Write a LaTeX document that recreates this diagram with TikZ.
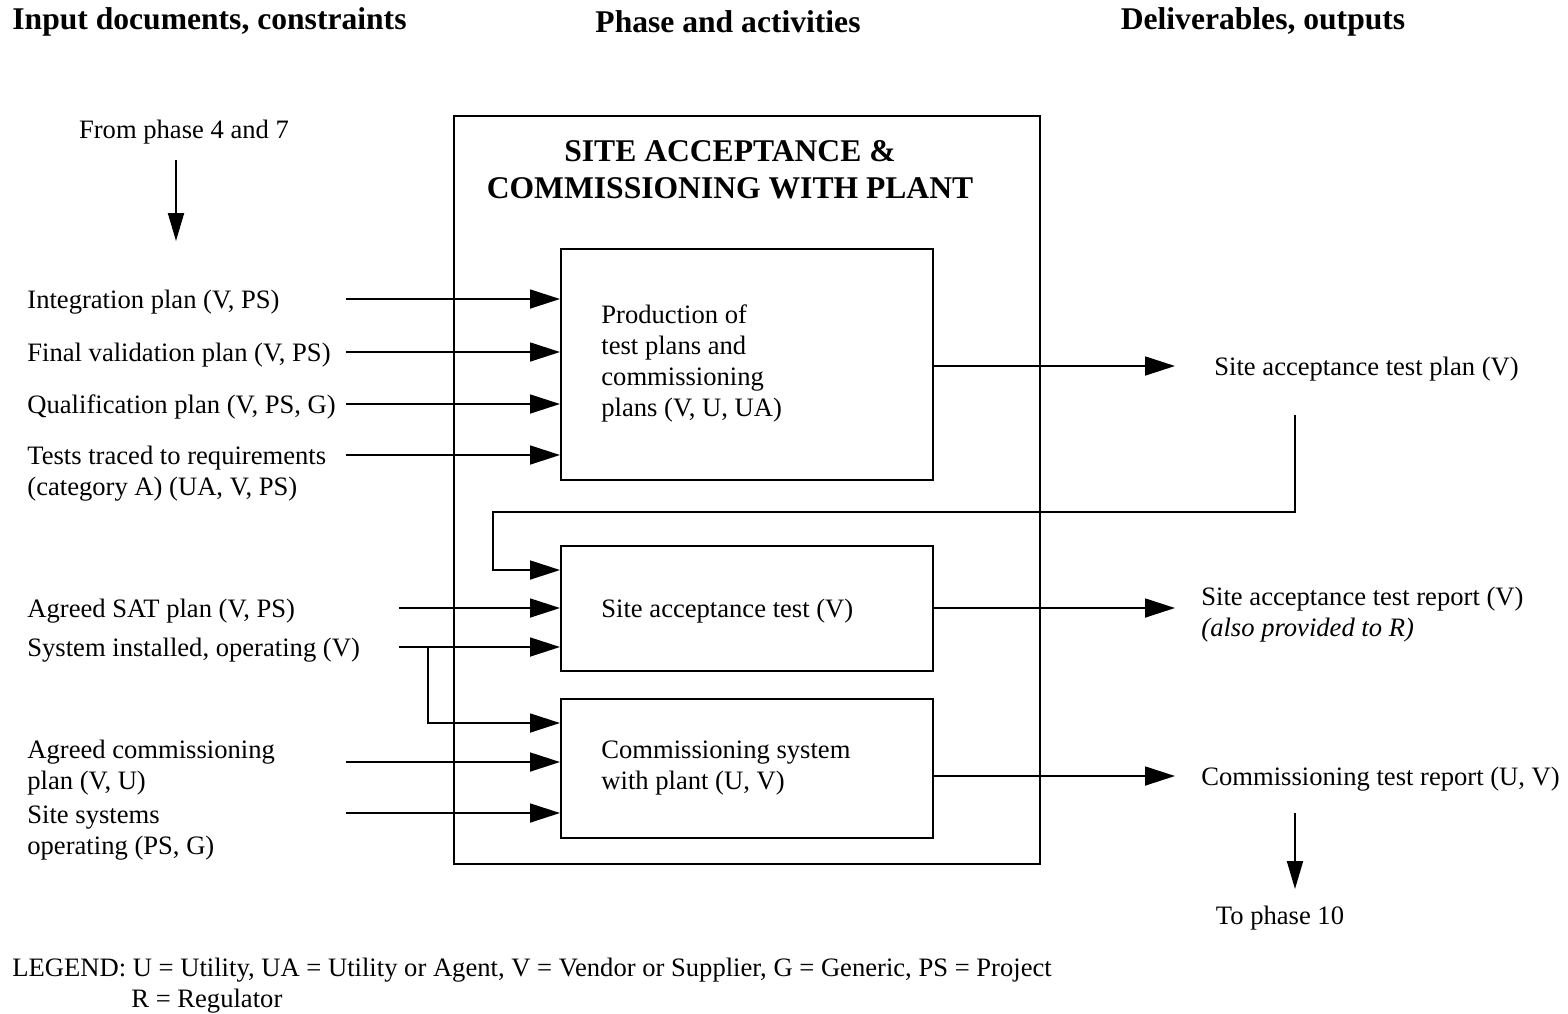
\documentclass[tikz,border=0pt]{standalone}
\usepackage{fontspec}
\setmainfont{Liberation Serif}
\usetikzlibrary{arrows.meta}
\begin{document}
\begin{tikzpicture}[x=0.5bp,y=-0.5bp,
  txt/.style={inner sep=0pt,anchor=west,yshift=-1.5bp,font=\fontsize{13.3bp}{15.5bp}\selectfont},
  head/.style={inner sep=0pt,yshift=-1bp,font=\fontsize{15.8bp}{18bp}\selectfont\bfseries},
  ttl/.style={inner sep=0pt,align=center,font=\fontsize{15.8bp}{18.5bp}\selectfont\bfseries},
  box/.style={draw,line width=1bp,inner sep=0pt},
  ln/.style={line width=1bp},
  arr/.style={line width=1bp,-{Triangle[length=15bp,width=10bp,angle'=35]}},
  darr/.style={line width=1bp,-{Triangle[length=14bp,width=8bp]}}]
\useasboundingbox (0,0) rectangle (1568,1013);

% column headings
\node[head,anchor=west] (h1) at (12,20) {Input documents, constraints};
\node[head] (h2) at (728,20) {Phase and activities};
\node[head] (h3) at (1263,20) {Deliverables, outputs};

% phase frame and activity boxes
\node[box,minimum width=293bp,minimum height=374bp] (frame) at (747,490) {};
\node[ttl] (title) at (730,170) {SITE ACCEPTANCE \&\\COMMISSIONING WITH PLANT};
\node[box,minimum width=186bp,minimum height=115.5bp] (b1) at (747,364.5) {};
\node[box,minimum width=186bp,minimum height=62.5bp] (b2) at (747,608.5) {};
\node[box,minimum width=186bp,minimum height=69.5bp] (b3) at (747,768.5) {};
\node[txt,align=left] (t1) at (601,360.5) {Production of\\test plans and\\commissioning\\plans (V, U, UA)};
\node[txt] (t2) at (601,608) {Site acceptance test (V)};
\node[txt,align=left] (t3) at (601,765.5) {Commissioning system\\with plant (U, V)};

% predecessor phases
\node[txt,anchor=center] (from) at (184,129) {From phase 4 and 7};
\coordinate (fa) at (176,160);
\coordinate (fb) at (176,241);
\draw[darr] (fa) -- (fb);

% inputs
\node[txt] (i1) at (27,299) {Integration plan (V, PS)};
\node[txt] (i2) at (27,352) {Final validation plan (V, PS)};
\node[txt] (i3) at (27,404) {Qualification plan (V, PS, G)};
\node[txt,align=left] (i4) at (27,471) {Tests traced to requirements\\(category A) (UA, V, PS)};
\node[txt] (i5) at (27,608) {Agreed SAT plan (V, PS)};
\node[txt] (i6) at (27,647) {System installed, operating (V)};
\node[txt,align=left] (i7) at (27,765) {Agreed commissioning\\plan (V, U)};
\node[txt,align=left] (i8) at (27,830) {Site systems\\operating (PS, G)};

\coordinate (s1) at (346,299);
\coordinate (s2) at (346,352);
\coordinate (s3) at (346,404);
\coordinate (s4) at (346,455);
\coordinate (s5) at (399,608);
\coordinate (s6) at (399,647);
\coordinate (s7) at (346,762);
\coordinate (s8) at (346,813);
\coordinate (k6) at (428,647);
\coordinate (k6b) at (428,723);

\draw[arr] (s1) -- (s1 -| b1.west);
\draw[arr] (s2) -- (s2 -| b1.west);
\draw[arr] (s3) -- (s3 -| b1.west);
\draw[arr] (s4) -- (s4 -| b1.west);
\draw[arr] (s5) -- (s5 -| b2.west);
\draw[arr] (s6) -- (s6 -| b2.west);
\draw[arr] (k6) -- (k6b) -- (k6b -| b3.west);
\draw[arr] (s7) -- (s7 -| b3.west);
\draw[arr] (s8) -- (s8 -| b3.west);

% outputs
\node[txt] (o1) at (1214,366) {Site acceptance test plan (V)};
\node[txt,align=left] (o2) at (1201,611.5) {Site acceptance test report (V)\\\textit{(also provided to R)}};
\node[txt] (o3) at (1201,776) {Commissioning test report (U, V)};

\coordinate (e1) at (1175,366);
\coordinate (e2) at (1175,608);
\coordinate (e3) at (1175,776);
\draw[arr] (e1 -| b1.east) -- (e1);
\draw[arr] (e2 -| b2.east) -- (e2);
\draw[arr] (e3 -| b3.east) -- (e3);

% test plan fed back into the site acceptance test
\coordinate (l1) at (1295,415);
\coordinate (l2) at (1295,512);
\coordinate (l3) at (493,512);
\coordinate (l4) at (493,570);
\draw[arr] (l1) -- (l2) -- (l3) -- (l4) -- (l4 -| b2.west);

% next phase
\coordinate (na) at (1295,813);
\coordinate (nb) at (1295,889);
\draw[darr] (na) -- (nb);
\node[txt,anchor=center] (to) at (1280,915) {To phase 10};

% legend
\node[txt] (lg1) at (12,967) {LEGEND: U = Utility, UA = Utility or Agent, V = Vendor or Supplier, G = Generic, PS = Project};
\node[txt] (lg2) at (131,998) {R = Regulator};
\end{tikzpicture}
\end{document}
